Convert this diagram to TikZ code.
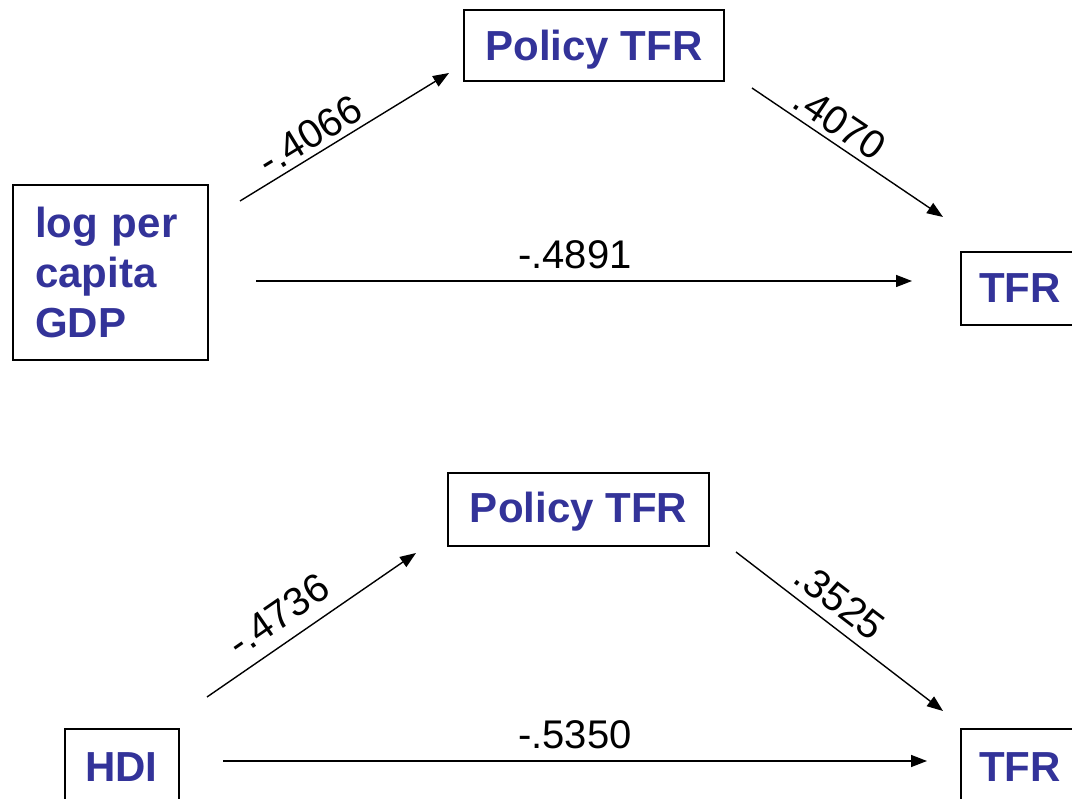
\documentclass[tikz,border=0pt]{standalone}
\usepackage{fontspec}
\setmainfont{Liberation Sans}
\usetikzlibrary{arrows.meta}
\definecolor{boxblue}{RGB}{51,51,153}
\tikzset{
  varbox/.style={draw=black, line width=2pt, fill=white, text=boxblue,
    font=\fontsize{42}{50}\selectfont\bfseries, inner sep=0pt},
  vartext/.style={text=boxblue, font=\fontsize{42}{50}\selectfont\bfseries,
    inner sep=0pt, anchor=base west},
  pathline/.style={line width=1.4pt, -{Triangle[length=16pt,width=12pt]}},
  coef/.style={font=\fontsize{40}{48}\selectfont, inner sep=0pt}
}
\begin{document}
\begin{tikzpicture}[x=1pt,y=-1pt]
\useasboundingbox (0,0) rectangle (1072,799);
\clip (0,0) rectangle (1072,799);
% top diagram
\node[varbox, minimum width=195pt, minimum height=175pt, text width=151pt, align=left, inner xsep=22pt] (gdp) at (110.5,272.5) {log per\\capita\\GDP};
\node[varbox, minimum width=260pt, minimum height=71pt, text height=31pt, text depth=0pt] (pol1) at (594,45.5) {Policy TFR};
\node[varbox, minimum width=160pt, minimum height=73pt, anchor=west] (tfr1) at (960,288.5) {};
\node[vartext] (tfr1txt) at (979,303) {TFR};
\coordinate (a1s) at (240,201); \coordinate (a1e) at (449,73);
\coordinate (b1s) at (752,88); \coordinate (b1e) at (943,217);
\coordinate (c1s) at (256,281); \coordinate (c1e) at (912,281);
\draw[pathline] (a1s) -- (a1e);
\draw[pathline] (b1s) -- (b1e);
\draw[pathline] (c1s) -- (c1e);
\node[coef, rotate=31.5] (l1) at (310,135) {-.4066};
\node[coef, rotate=-34] (l2) at (840,123) {.4070};
\node[coef] (l3) at (575,255) {-.4891};
% bottom diagram
\node[varbox, minimum width=114pt, minimum height=100pt, anchor=north west] (hdi) at (64,728) {};
\node[vartext] (hditxt) at (85,781) {HDI};
\node[varbox, minimum width=261pt, minimum height=73pt, text height=27pt, text depth=0pt] (pol2) at (578.5,509.5) {Policy TFR};
\node[varbox, minimum width=160pt, minimum height=100pt, anchor=north west] (tfr2) at (960,728) {};
\node[vartext] (tfr2txt) at (979,781) {TFR};
\coordinate (a2s) at (207,697); \coordinate (a2e) at (416,553);
\coordinate (b2s) at (736,552); \coordinate (b2e) at (943,711);
\coordinate (c2s) at (223,761); \coordinate (c2e) at (927,761);
\draw[pathline] (a2s) -- (a2e);
\draw[pathline] (b2s) -- (b2e);
\draw[pathline] (c2s) -- (c2e);
\node[coef, rotate=34.6] (l4) at (278,615) {-.4736};
\node[coef, rotate=-37.5] (l5) at (840,601) {.3525};
\node[coef] (l6) at (575,735) {-.5350};
\end{tikzpicture}
\end{document}
